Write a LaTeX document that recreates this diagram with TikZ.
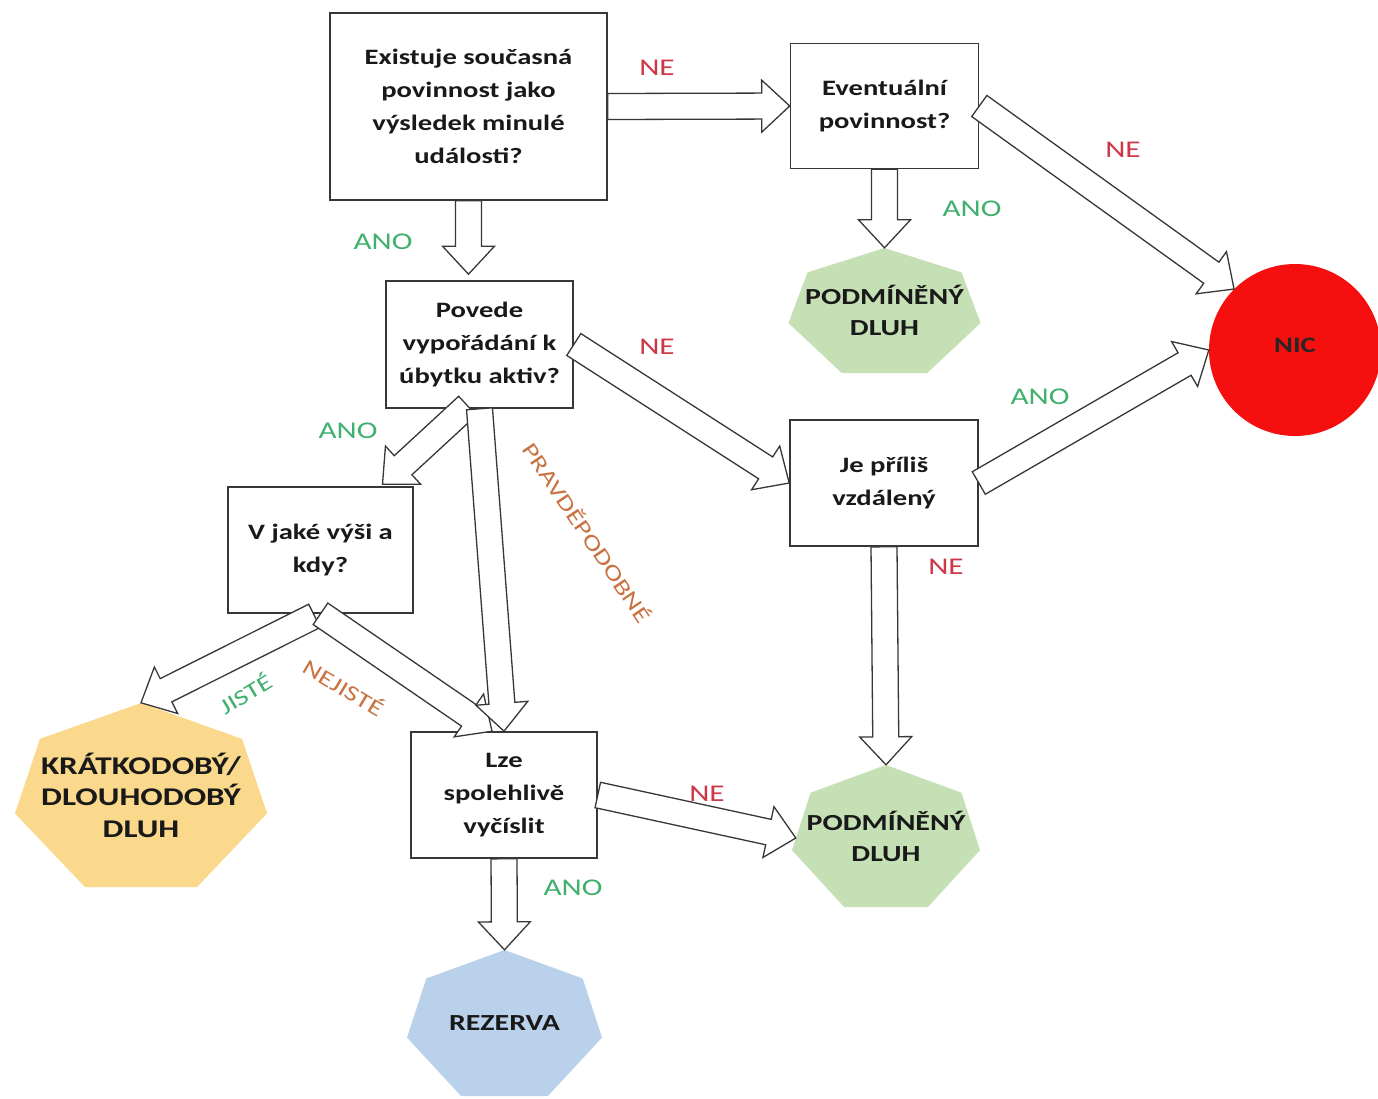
\documentclass[tikz,border=0pt]{standalone}
\usepackage{fontspec}
\setmainfont{Carlito}[FakeStretch=1.3]
\usetikzlibrary{calc,backgrounds}
\definecolor{lblgreen}{RGB}{64,176,110}
\definecolor{lblred}{RGB}{205,55,70}
\definecolor{lblorange}{RGB}{200,115,65}
\definecolor{hgreen}{RGB}{197,224,180}
\definecolor{hyellow}{RGB}{250,217,140}
\definecolor{hblue}{RGB}{185,209,234}
\definecolor{nicred}{RGB}{245,15,15}
\definecolor{edgecol}{RGB}{55,55,55}
\newcommand\blockarrow[2]{%
  \path ($(#2)!28pt!(#1)$) coordinate (ba-h);
  \draw[blockarr] ($(#1)!13pt!90:(#2)$) -- ($(ba-h)!13pt!90:(#2)$) -- ($(ba-h)!26pt!90:(#2)$) -- (#2)
     -- ($(ba-h)!26pt!-90:(#2)$) -- ($(ba-h)!13pt!-90:(#2)$) -- ($(#1)!13pt!-90:(#2)$) -- cycle;}
\newcommand\hepta[4]{%
  \fill[#4] ($(#1)+(0,-#3)$) -- ($(#1)+(0.802*#2,-0.61*#3)$) -- ($(#1)+(#2,0.2*#3)$)
    -- ($(#1)+(0.445*#2,#3)$) -- ($(#1)+(-0.445*#2,#3)$) -- ($(#1)+(-#2,0.2*#3)$)
    -- ($(#1)+(-0.802*#2,-0.61*#3)$) -- cycle;}
\begin{document}
\begin{tikzpicture}[x=1pt,y=-1pt,
  box/.style={draw=edgecol, line width=1.6pt, fill=white, inner sep=0pt, align=center,
    font=\fontsize{22}{33}\selectfont\bfseries, text=black!90},
  hep/.style={inner sep=0pt, align=center, font=\fontsize{23}{31}\selectfont\bfseries, text=black!90},
  blockarr/.style={draw=edgecol, fill=white, line width=1.3pt, line join=miter},
  lbl/.style={inner sep=0pt, font=\fontsize{24}{28}\selectfont}]
\useasboundingbox (0,0) rectangle (1378,1098);

% boxes
\node[box, minimum width=277pt, minimum height=187pt] (A) at (468.5,106.5) {Existuje současná\\povinnost jako\\výsledek minulé\\události?};
\node[box, minimum width=188pt, minimum height=125pt] (B) at (884.5,106) {Eventuální\\povinnost?};
\node[box, minimum width=187pt, minimum height=127pt] (C) at (479.5,344.5) {Povede\\vypořádání k\\úbytku aktiv?};
\node[box, minimum width=188pt, minimum height=126pt] (D) at (884,483) {Je příliš\\vzdálený};
\node[box, minimum width=185pt, minimum height=126pt] (E) at (320.5,550) {V jaké výši a\\kdy?};
\node[box, minimum width=186pt, minimum height=126pt] (F) at (504,795) {Lze\\spolehlivě\\vyčíslit};

% terminal shapes
\node[hep, minimum width=192pt, minimum height=125pt] (G1) at (884.5,310.5) {PODMÍNĚNÝ\\DLUH};
\node[hep, minimum width=188pt, minimum height=142pt] (G2) at (886,836) {PODMÍNĚNÝ\\DLUH};
\node[hep, minimum width=252pt, minimum height=184pt, font=\fontsize{25.5}{31.5}\selectfont\bfseries] (Y) at (141,795) {KRÁTKODOBÝ/\\DLOUHODOBÝ\\DLUH};
\node[hep, minimum width=195pt, minimum height=146pt] (R) at (504.5,1023) {REZERVA};
\node[circle, fill=nicred, minimum size=172pt, inner sep=0pt, font=\fontsize{22}{26}\selectfont\bfseries, text=black!85] (N) at (1295,350) {\raisebox{9pt}{NIC}};
\begin{pgfonlayer}{background}
  \fill[white] (0,0) rectangle (1378,1098);
  \hepta{G1}{96}{62.5}{hgreen}
  \hepta{G2}{94}{71}{hgreen}
  \hepta{Y}{126}{92}{hyellow}
  \hepta{R}{97.5}{73}{hblue}
\end{pgfonlayer}

% helper coordinates
\coordinate (tAC) at ($(A.south |- C.north)+(0,-6)$);
\coordinate (ce1) at ($(C.south)+(-12,-3)$);
\coordinate (ce2) at ($(E.north)+(62,-2)$);
\coordinate (ey1) at ($(E.south)+(-6,2)$);
\coordinate (ef1) at ($(F.north)+(-12,0)$);
\coordinate (fg2) at ($(G2.west)+(4,2)$);

% connectors
\blockarrow{A.east}{B.west}
\blockarrow{A.south}{tAC}
\blockarrow{B.south}{G1.north}
\blockarrow{B.east}{N.north west}
\blockarrow{C.east}{D.west}
\blockarrow{D.east}{N.west}
\blockarrow{D.south}{G2.north}
\blockarrow{ce1}{ce2}
\blockarrow{ey1}{Y.north}
\blockarrow{E.south}{ef1}
\blockarrow{C.south}{F.north}
\blockarrow{F.east}{fg2}
\blockarrow{F.south}{R.north}

% labels
\node[lbl, text=lblred] (l1) at (657,68) {NE};
\node[lbl, text=lblgreen] (l2) at (383,242) {ANO};
\node[lbl, text=lblgreen] (l3) at (972,209) {ANO};
\node[lbl, text=lblred] (l4) at (1123,150) {NE};
\node[lbl, text=lblred] (l5) at (657,347) {NE};
\node[lbl, text=lblgreen] (l6) at (348,431) {ANO};
\node[lbl, text=lblgreen] (l7) at (1040,397) {ANO};
\node[lbl, text=lblred] (l8) at (946,567) {NE};
\node[lbl, text=lblorange, rotate=-56, font=\fontsize{22}{26}\selectfont] (l9) at (588,532) {PRAVDĚPODOBNÉ};
\node[lbl, text=lblgreen, rotate=31, font=\fontsize{22}{26}\selectfont] (l10) at (245,693) {JISTÉ};
\node[lbl, text=lblorange, rotate=-31, font=\fontsize{22}{26}\selectfont] (l11) at (344,687) {NEJISTÉ};
\node[lbl, text=lblred] (l12) at (707,794) {NE};
\node[lbl, text=lblgreen] (l13) at (573,888) {ANO};
\end{tikzpicture}
\end{document}
